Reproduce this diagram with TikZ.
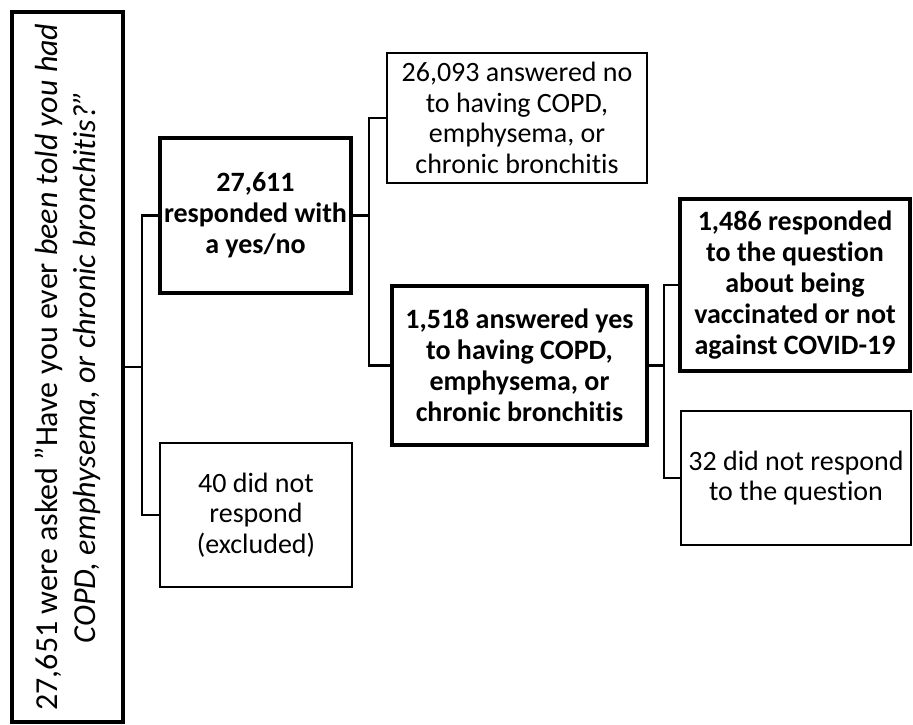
\documentclass[tikz,border=0pt]{standalone}
\usepackage{fontspec}
\setmainfont{Carlito}[Ligatures={TeX,NoCommon}]

\begin{document}
\begin{tikzpicture}[x=1pt,y=-1pt,
        box/.style={draw, line width=3.1pt, align=center, inner sep=0pt, font=\fontsize{28}{30.5}\selectfont},
        boldbox/.style={box, font=\fontsize{28}{31}\selectfont\bfseries},
        link/.style={line width=2.6pt},
        thinlink/.style={line width=1.4pt}]
        \useasboundingbox (0,0) rectangle (913,724);

        % Draw the question box on the left
        \node[box, minimum width=111pt, minimum height=710pt] (asked) at (67.5,367) {};
        \node[rotate=90, align=center, font=\fontsize{32}{38}\selectfont] (question) at (asked.center)
            {27,651 were asked "Have you ever \textit{been told you had}\\
             \textit{COPD, emphysema, or chronic bronchitis?"}};

        % Draw the first split
        \node[boldbox, minimum width=191pt, minimum height=155pt] (respond) at (255.5,215.5)
            {27,611\\responded with\\a yes/no};
        \node[box, line width=2.9pt, minimum width=192pt, minimum height=144pt] (excluded) at (256,515)
            {40 did not\\respond\\(excluded)};

        % Draw the yes/no answers
        \node[box, line width=2.5pt, minimum width=260pt, minimum height=130pt] (no) at (517,118)
            {26,093 answered no\\to having COPD,\\emphysema, or\\chronic bronchitis};
        \node[boldbox, minimum width=255pt, minimum height=159pt] (yes) at (519.5,365.5)
            {1,518 answered yes\\to having COPD,\\emphysema, or\\chronic bronchitis};

        % Draw the vaccination question
        \node[boldbox, minimum width=230pt, minimum height=172pt] (vaccinated) at (795,285)
            {1,486 responded\\to the question\\about being\\vaccinated or not\\against COVID-19};
        \node[box, line width=2pt, minimum width=230pt, minimum height=134pt] (noreply) at (796,478)
            {32 did not respond\\to the question};

        % Draw the connectors
        \coordinate (splitA) at (142,367);
        \draw[link] (asked.east) -- (splitA) |- (respond.west);
        \draw[link] (splitA) |- (excluded.west);

        \coordinate (splitB) at (369,215.5);
        \draw[link] (respond.east) -- (splitB) |- (yes.west);
        \draw[thinlink] (splitB) |- (no.west);

        \coordinate (splitC) at (664,365.5);
        \draw[link] (yes.east) -- (splitC) |- (vaccinated.west);
        \draw[thinlink] (splitC) |- (noreply.west);
    \end{tikzpicture}
\end{document}
